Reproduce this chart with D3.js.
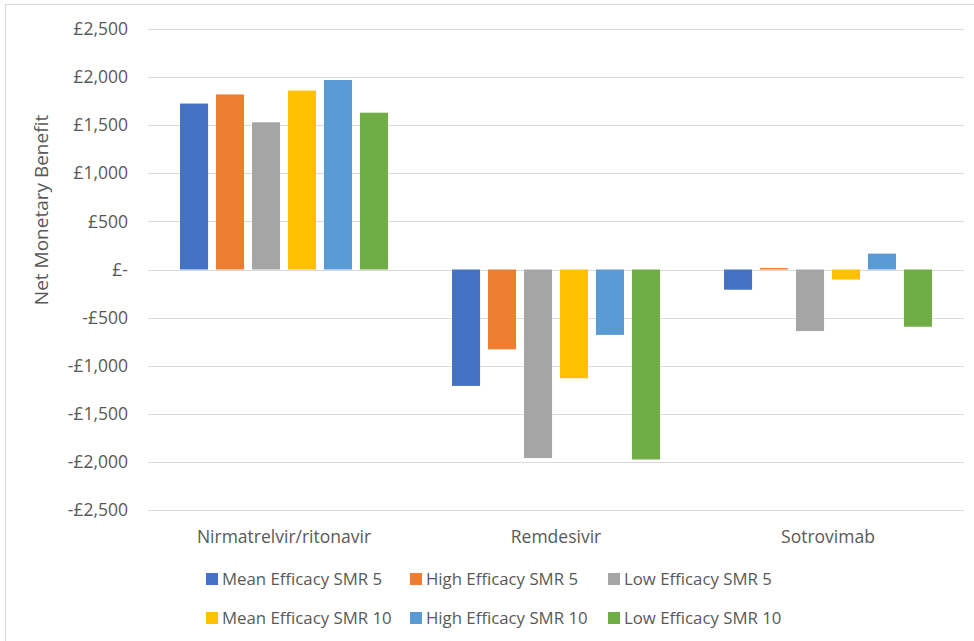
<!DOCTYPE html>
<html lang="en">
<head>
  <meta charset="UTF-8">
  <title>Net Monetary Benefit</title>
  <script src="https://d3js.org/d3.v7.min.js"></script>
  <style>
    body { margin: 0; padding: 0; background: #fff; }
    svg text { font-family: 'Open Sans', sans-serif; fill: #595959; }
  </style>
</head>
<body>
  <svg id="chart" width="974" height="641"></svg>

  <script>
    // chart data
    const drugs = ['Nirmatrelvir/ritonavir', 'Remdesivir', 'Sotrovimab'];
    const seriesNames = [
      'Mean Efficacy SMR 5', 'High Efficacy SMR 5', 'Low Efficacy SMR 5',
      'Mean Efficacy SMR 10', 'High Efficacy SMR 10', 'Low Efficacy SMR 10'
    ];
    const meanSmr5 = [1725, -1210, -210];
    const highSmr5 = [1820, -830, 15];
    const lowSmr5 = [1530, -1960, -640];
    const meanSmr10 = [1860, -1130, -105];
    const highSmr10 = [1970, -680, 165];
    const lowSmr10 = [1630, -1975, -595];
    const yTicks = [-2500, -2000, -1500, -1000, -500, 0, 500, 1000, 1500, 2000, 2500];
    const colors = ['#4472c4', '#ed7d31', '#a5a5a5', '#ffc000', '#5b9bd5', '#70ad47'];

    const values = [meanSmr5, highSmr5, lowSmr5, meanSmr10, highSmr10, lowSmr10];

    const svg = d3.select('#chart');

    // outer border
    svg.append('rect')
      .attr('x', 5.5).attr('y', 4.5)
      .attr('width', 1000).attr('height', 1000)
      .attr('fill', 'none')
      .attr('stroke', '#d9d9d9');

    const x0 = d3.scaleBand()
      .domain(drugs)
      .range([148, 964]);

    const x1 = d3.scaleBand()
      .domain(seriesNames)
      .range([32, 240])
      .paddingInner(0.22);

    const y = d3.scaleLinear()
      .domain([-2500, 2500])
      .range([510, 29]);

    // gridlines
    svg.append('g')
      .selectAll('line')
      .data(yTicks)
      .join('line')
      .attr('x1', 148).attr('x2', 964)
      .attr('y1', d => Math.round(y(d)) + 0.5)
      .attr('y2', d => Math.round(y(d)) + 0.5)
      .attr('stroke', '#d9d9d9');

    // y axis labels
    const fmt = d => {
      if (d === 0) return '£-';
      return (d < 0 ? '-' : '') + '£' + d3.format(',')(Math.abs(d));
    };
    const yAxis = svg.append('g')
      .attr('transform', 'translate(128,0)')
      .call(d3.axisLeft(y).tickValues(yTicks).tickFormat(fmt).tickSize(0).tickPadding(0));
    yAxis.select('.domain').remove();
    yAxis.selectAll('text')
      .style('font-size', '17.5px')
      .attr('fill', '#595959');

    // bars
    svg.append('g')
      .selectAll('g')
      .data(drugs)
      .join('g')
      .attr('transform', d => `translate(${x0(d)},0)`)
      .selectAll('rect')
      .data((d, i) => seriesNames.map((s, j) => ({ s, v: values[j][i], c: colors[j] })))
      .join('rect')
      .attr('x', d => x1(d.s))
      .attr('width', x1.bandwidth())
      .attr('y', d => y(Math.max(0, d.v)))
      .attr('height', d => Math.abs(y(d.v) - y(0)))
      .attr('fill', d => d.c);

    // category labels
    svg.append('g')
      .selectAll('text')
      .data(drugs)
      .join('text')
      .attr('x', d => x0(d) + x0.bandwidth() / 2)
      .attr('y', 543)
      .attr('text-anchor', 'middle')
      .style('font-size', '17.5px')
      .text(d => d);

    // axis title
    svg.append('text')
      .attr('transform', 'translate(48,210) rotate(-90)')
      .attr('text-anchor', 'middle')
      .style('font-size', '19px')
      .text('Net Monetary Benefit');

    // legend
    const legendX = [206, 410, 608];
    const legendY = [579, 618];
    const legend = svg.append('g')
      .selectAll('g')
      .data(seriesNames)
      .join('g')
      .attr('transform', (d, i) => `translate(${legendX[i % 3]},${legendY[Math.floor(i / 3)]})`);
    legend.append('rect')
      .attr('x', 0).attr('y', -6)
      .attr('width', 12).attr('height', 12)
      .attr('fill', (d, i) => colors[i]);
    legend.append('text')
      .attr('x', 16).attr('y', 6)
      .style('font-size', '16.8px')
      .text(d => d);
  </script>
</body>
</html>
